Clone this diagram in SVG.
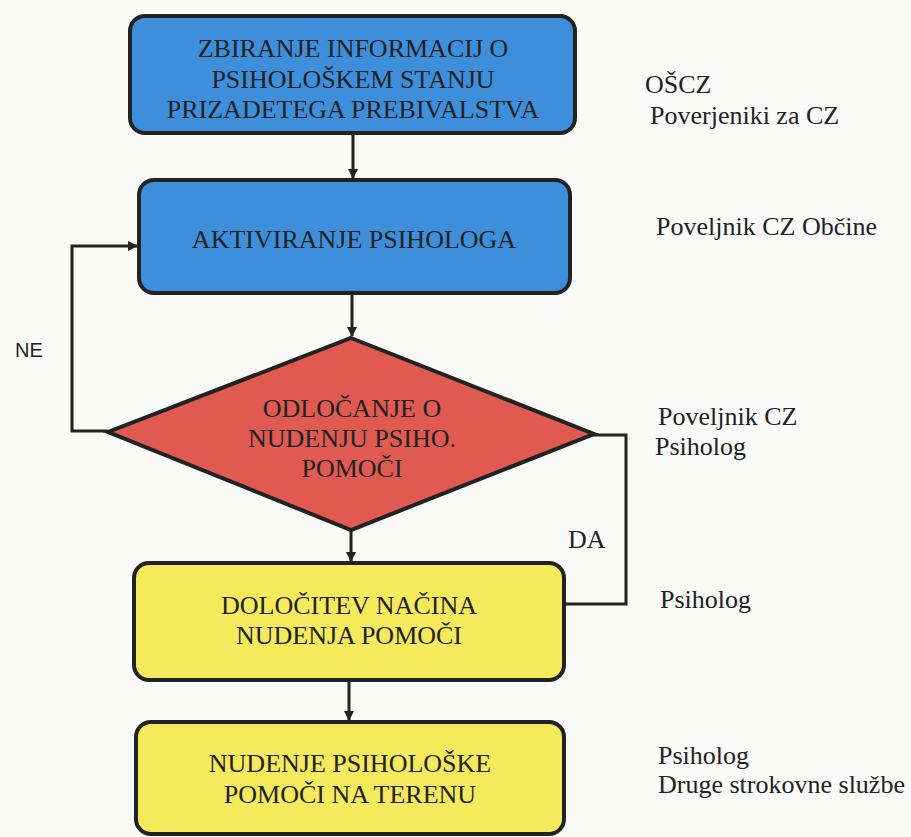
<svg xmlns="http://www.w3.org/2000/svg" width="911" height="837" viewBox="0 0 911 837">
<defs>
<marker id="arr" markerWidth="10" markerHeight="10" refX="9" refY="5" orient="auto" markerUnits="userSpaceOnUse" viewBox="0 0 10 10">
<path d="M0,0 L10,5 L0,10 Z" fill="#222"/>
</marker>
</defs>
<style>
.box{stroke:#222;stroke-width:4}
.blue{fill:#3d8fdb}
.red{fill:#e05a52}
.yellow{fill:#f5ea5c}
.t{font-size:26px;fill:#222}
.c{text-anchor:middle}
.s{font-size:20px;fill:#222}
.ln{fill:none;stroke:#222;stroke-width:3}
</style>
<rect width="911" height="837" fill="#fafaf8"/>
<g id="connectors">
<line class="ln" x1="353" y1="134" x2="353" y2="178" marker-end="url(#arr)"/>
<line class="ln" x1="352" y1="294" x2="352" y2="336" marker-end="url(#arr)"/>
<line class="ln" x1="351" y1="530" x2="351" y2="561" marker-end="url(#arr)"/>
<line class="ln" x1="349" y1="681" x2="349" y2="720" marker-end="url(#arr)"/>
<polyline class="ln" points="108,431 72,431 72,246 137,246" marker-end="url(#arr)"/>
<polyline class="ln" points="593,435 626,435 626,604 564,604"/>
<text class="s" x="15" y="357" font-family="Liberation Sans, Arial, sans-serif">NE</text>
<text class="t" x="568" y="548" font-family="Liberation Serif, Times New Roman, DejaVu Serif, serif">DA</text>
</g>
<g font-family="Liberation Serif, Times New Roman, DejaVu Serif, serif">
<g id="n1">
<rect class="box blue" x="130" y="16" width="445" height="117" rx="15"/>
<text class="t c" x="353" y="57">ZBIRANJE INFORMACIJ O</text>
<text class="t c" x="353" y="88">PSIHOLOŠKEM STANJU</text>
<text class="t c" x="353" y="118">PRIZADETEGA PREBIVALSTVA</text>
</g>
<g id="n2">
<rect class="box blue" x="139" y="180" width="431" height="113" rx="15"/>
<text class="t c" x="354" y="248">AKTIVIRANJE PSIHOLOGA</text>
</g>
<g id="n3">
<polygon class="box red" points="351,338 594,434 351,530 108,432"/>
<text class="t c" x="352" y="417">ODLOČANJE O</text>
<text class="t c" x="352" y="447">NUDENJU PSIHO.</text>
<text class="t c" x="352" y="477">POMOČI</text>
</g>
<g id="n4">
<rect class="box yellow" x="134" y="563" width="430" height="117" rx="15"/>
<text class="t c" x="349" y="614">DOLOČITEV NAČINA</text>
<text class="t c" x="349" y="644">NUDENJA POMOČI</text>
</g>
<g id="n5">
<rect class="box yellow" x="136" y="722" width="428" height="112" rx="15"/>
<text class="t c" x="350" y="772">NUDENJE PSIHOLOŠKE</text>
<text class="t c" x="350" y="803">POMOČI NA TERENU</text>
</g>
<g id="roles">
<text class="t" x="645" y="93">OŠCZ</text>
<text class="t" x="650" y="124">Poverjeniki za CZ</text>
<text class="t" x="656" y="235">Poveljnik CZ Občine</text>
<text class="t" x="658" y="425">Poveljnik CZ</text>
<text class="t" x="655" y="455">Psiholog</text>
<text class="t" x="660" y="608">Psiholog</text>
<text class="t" x="658" y="764">Psiholog</text>
<text class="t" x="658" y="793">Druge strokovne službe</text>
</g>
</g>
</svg>
